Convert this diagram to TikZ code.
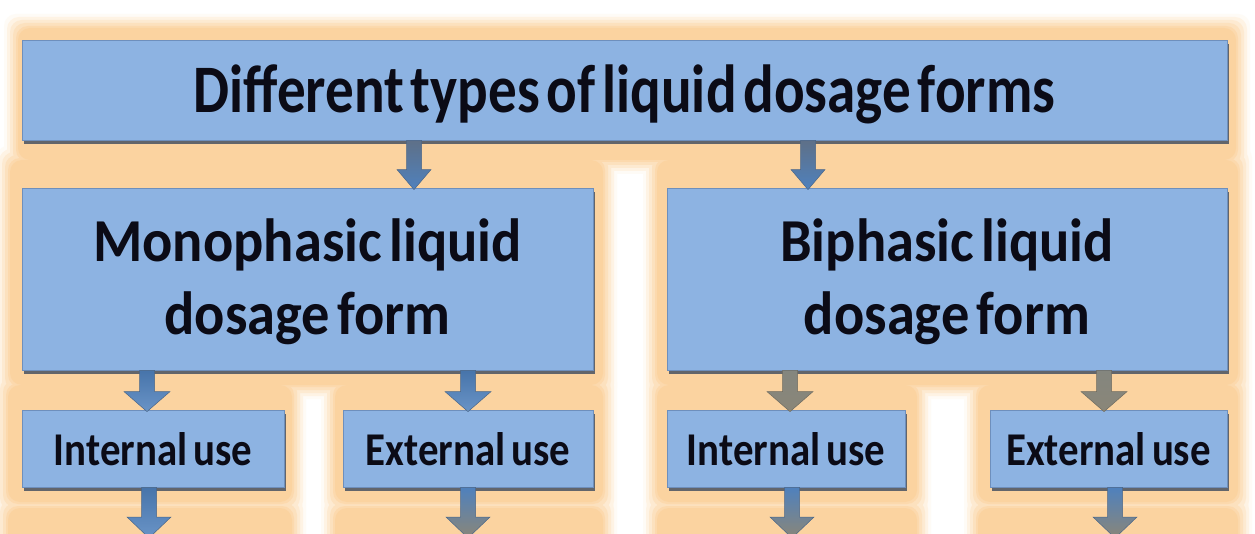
\documentclass[tikz,border=0pt]{standalone}
\usepackage{fontspec}
\setmainfont{Carlito}
\newfontfamily\ftop[FakeStretch=0.84]{Carlito}
\newfontfamily\fmid[FakeStretch=0.925]{Carlito}
\newfontfamily\flow[FakeStretch=0.87]{Carlito}
\usetikzlibrary{calc,shadows}
\definecolor{glow}{HTML}{FBD3A0}
\definecolor{boxfill}{HTML}{8DB3E2}
\definecolor{boxline}{HTML}{6E8FBC}
\definecolor{shadowc}{HTML}{3C4A5E}
\definecolor{arrblue}{HTML}{4F81BD}
\definecolor{arrdark}{HTML}{5E7088}
\definecolor{arrgrey}{HTML}{8A8678}
\definecolor{arrline}{HTML}{4A6688}
\definecolor{txt}{HTML}{0B0B16}
\newcommand\blockarr[7]{%
  \path[#7] let \p1=(#1), \p2=(#2) in
   (\x1-#3pt,\y1) -- (\x1+#3pt,\y1) -- (\x1+#3pt,\y2-#6pt+#5pt) -- (\x1+#4pt,\y2-#6pt+#5pt)
   -- (\x1,\y2-#6pt) -- (\x1-#4pt,\y2-#6pt+#5pt) -- (\x1-#3pt,\y2-#6pt+#5pt) -- cycle;}
\tikzset{
  box/.style={draw=boxline, line width=0.8pt, fill=boxfill, inner sep=0pt, text=txt, align=center,
    drop shadow={shadow xshift=2pt, shadow yshift=-4pt, fill=shadowc, draw=none, opacity=0.8}},
  topbox/.style={box, minimum width=1205pt, minimum height=100pt, text width=1190pt,
    text height=46pt, text depth=0pt,
    font=\ftop\bfseries\fontsize{68}{68}\selectfont,
    execute at begin node={\spaceskip=0.1em\relax}},
  midbox/.style={box, minimum height=182pt, text height=0pt, text depth=34pt,
    font=\fmid\bfseries\fontsize{61}{73}\selectfont,
    execute at begin node={\spaceskip=0.12em\relax}},
  lowbox/.style={box, minimum height=77pt, text height=34pt, text depth=0pt,
    font=\flow\bfseries\fontsize{47}{47}\selectfont,
    execute at begin node={\spaceskip=0.13em\relax}},
  arrtop/.style={top color=arrdark, bottom color=arrblue, draw=arrline, line width=0.5pt},
  arrbl/.style={top color=arrblue!90!black, bottom color=arrblue!85!white, draw=arrline, line width=0.5pt},
  arrgr/.style={top color=arrgrey!90!arrblue, bottom color=arrgrey, draw=arrgrey!80!black, line width=0.5pt},
  arrmix/.style={top color=arrblue, middle color=arrblue, bottom color=arrgrey, draw=arrline, line width=0.5pt},
}
\begin{document}
\begin{tikzpicture}[x=1pt,y=-1pt]
\useasboundingbox (0,0) rectangle (1255,534);
\fill[white] (0,0) rectangle (1255,534);
% soft orange glow behind the boxes
\foreach \e/\c in {14/10,11/28,8/48,5/68,2/86,0/100}{
  \foreach \xa/\ya/\xb/\yb in {18/28/1236/160, 10/160/603/385, 657/160/1238/385,
      8/385/292/502, 335/385/603/502, 657/385/917/502, 978/385/1238/502,
      8/508/292/600, 335/508/603/600, 657/508/917/600, 978/508/1238/600}{
    \fill[glow!\c!white, rounded corners=12pt] (\xa-\e,\ya-\e) rectangle (\xb+\e,\yb+\e);
  }
}
% boxes
\node[topbox] (top) at (624.5,90) {Different types of liquid dosage forms};
\node[midbox, minimum width=571pt, text width=560pt] (mono) at (307.5,279) {Monophasic liquid\\dosage form};
\node[midbox, minimum width=560pt, text width=550pt] (bi) at (947,279) {Biphasic liquid\\dosage form};
\node[lowbox, minimum width=262pt, text width=255pt] (intL) at (153,448.5) {Internal use};
\node[lowbox, minimum width=250pt, text width=245pt] (extL) at (468,448.5) {External use};
\node[lowbox, minimum width=238pt, text width=232pt] (intR) at (786,448.5) {Internal use};
\node[lowbox, minimum width=237pt, text width=232pt] (extR) at (1108.5,448.5) {External use};
% arrow positions
\coordinate (ca) at (414,0);
\coordinate (cb) at (808,0);
\coordinate (cc) at (147,0);
\coordinate (cd) at (468,0);
\coordinate (ce) at (790,0);
\coordinate (cf) at (1104,0);
\coordinate (qa) at (149,538);
\coordinate (qb) at (468,538);
\coordinate (qc) at (792,538);
\coordinate (qd) at (1115,538);
% arrows
\blockarr{top.south -| ca}{mono.north -| ca}{7.5}{17}{20}{2}{arrtop}
\blockarr{top.south -| cb}{bi.north -| cb}{7.5}{17}{20}{2}{arrtop}
\blockarr{mono.south -| cc}{intL.north -| cc}{7.5}{23}{20}{2}{arrbl}
\blockarr{mono.south -| cd}{extL.north -| cd}{7.5}{23}{20}{2}{arrbl}
\blockarr{bi.south -| ce}{intR.north -| ce}{7.5}{23}{20}{2}{arrgr}
\blockarr{bi.south -| cf}{extR.north -| cf}{7.5}{23}{20}{2}{arrgr}
\blockarr{intL.south -| qa}{qa}{7.5}{22}{21}{0}{arrbl}
\blockarr{extL.south -| qb}{qb}{7.5}{22}{21}{0}{arrmix}
\blockarr{intR.south -| qc}{qc}{7.5}{22}{21}{0}{arrmix}
\blockarr{extR.south -| qd}{qd}{7.5}{22}{21}{0}{arrmix}
\end{tikzpicture}
\end{document}
